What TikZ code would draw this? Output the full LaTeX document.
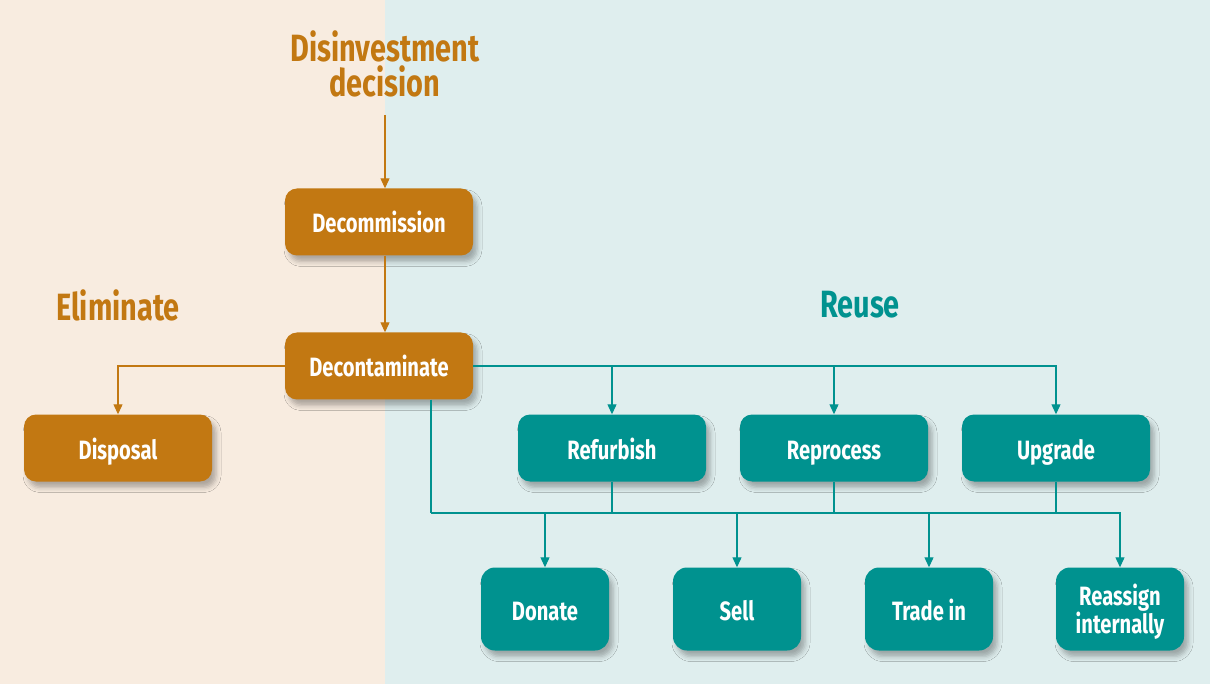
\documentclass[tikz,border=0pt]{standalone}
\usepackage{fontspec}
\setmainfont{Fira Sans}[FakeStretch=0.76]
\usetikzlibrary{
   arrows.meta,
   positioning,
   shadows.blur
}

\definecolor{ochre}{RGB}{194,120,18}
\definecolor{sea}{RGB}{0,146,143}
\definecolor{sand}{RGB}{248,236,224}
\definecolor{mist}{RGB}{223,238,238}

\begin{document}
\begin{tikzpicture}[
  x=1pt, y=-1pt,
  every node/.style={font=\bfseries},
  basebox/.style={rounded corners=12pt, text=white, align=center,
    font=\fontsize{26.5}{27}\selectfont\bfseries,
    blur shadow={shadow xshift=4pt, shadow yshift=-6pt,
      shadow opacity=30, shadow blur radius=5pt}},
  oneline/.style={text height=22pt, text depth=0pt},
  orangebox/.style={basebox, oneline, fill=ochre, minimum width=188pt, minimum height=67pt},
  tealbox/.style={basebox, oneline, fill=sea, minimum width=188pt, minimum height=67pt},
  tealleaf/.style={basebox, fill=sea, minimum width=128pt, minimum height=83pt,
    rounded corners=14pt},
  heading/.style={align=center, font=\fontsize{38}{35}\selectfont\bfseries},
  link/.style={line width=1.2pt, -{Triangle[length=10pt,width=9pt]}},
]

\useasboundingbox (0,0) rectangle (1210,684);

% background
\fill[sand] (0,0) rectangle (385,684);
\fill[mist] (385,0) rectangle (1210,684);

% headings
\node[heading, text=ochre] (title) at (385,64) {Disinvestment\\decision};
\node[heading, text=ochre] (elim) at (118,305) {Eliminate};
\node[heading, text=sea] (reuse) at (860,305) {Reuse};

% boxes
\node[orangebox] (decomm) at (379,222) {Decommission};
\node[orangebox] (decon) at (379,366) {Decontaminate};
\node[orangebox] (disposal) at (118,448) {Disposal};
\node[tealbox] (refurb) at (612,448) {Refurbish};
\node[tealbox] (reproc) at (834,448) {Reprocess};
\node[tealbox] (upgrade) at (1056,448) {Upgrade};
\node[tealleaf, oneline] (donate) at (545,609) {Donate};
\node[tealleaf, oneline] (sell) at (737,609) {Sell};
\node[tealleaf, oneline] (trade) at (929,609) {Trade in};
\node[tealleaf, text depth=0pt] (reassign) at (1120,609) {Reassign\\internally};

% helper points
\coordinate (stem) at (385,115);
\coordinate (bus) at (431,513);

% decision chain
\draw[link, ochre] (stem) -- (stem |- decomm.north);
\draw[link, ochre] (decomm.south -| stem) -- (decon.north -| stem);

% eliminate branch
\draw[link, ochre] (decon.west) -| (disposal.north);

% reuse branch, upper row
\draw[link, sea] (decon.east) -| (upgrade.north);
\draw[link, sea] (refurb.north |- decon.east) -- (refurb.north);
\draw[link, sea] (reproc.north |- decon.east) -- (reproc.north);

% reuse branch, lower row
\draw[sea, line width=1.2pt] (decon.south -| bus) -- (bus);
\draw[link, sea] (bus) -| (reassign.north);
\foreach \b in {refurb, reproc, upgrade}
  \draw[sea, line width=1.2pt] (\b.south) -- (\b.south |- bus);
\foreach \l in {donate, sell, trade}
  \draw[link, sea] (\l.north |- bus) -- (\l.north);

\end{tikzpicture}
\end{document}
